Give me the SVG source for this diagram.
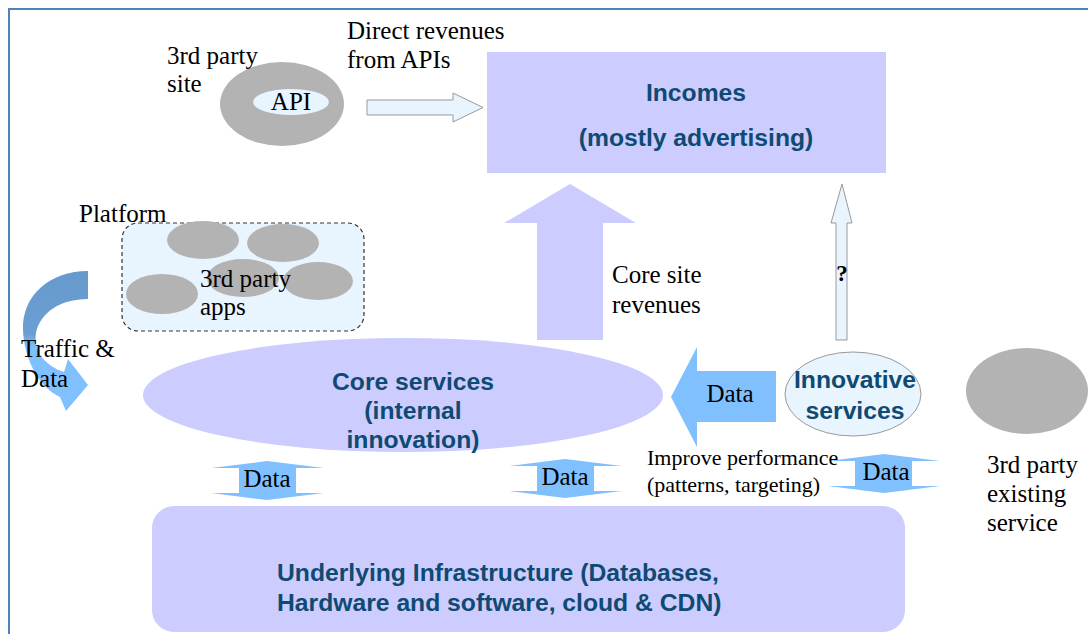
<svg xmlns="http://www.w3.org/2000/svg" width="1088" height="634" viewBox="0 0 1088 634">
<style>
.serif{font-family:'Liberation Serif','Times New Roman','DejaVu Serif',serif;font-size:25px;fill:#000}
.small{font-size:22px}
.q{font-size:23px;font-weight:bold}
.sans{font-family:'Liberation Sans',Arial,Helvetica,sans-serif;font-size:24.7px;font-weight:bold;fill:#0e4a72}
.lav{fill:#ccccff}
.grey{fill:#b3b3b3}
.pale{fill:#e8f4fe}
.blue{fill:#80c0ff}
.outl{fill:#e8f4fe;stroke:#9a9a9a;stroke-width:1}
</style>
<defs>
<linearGradient id="curveGrad" x1="0" y1="271" x2="0" y2="411" gradientUnits="userSpaceOnUse">
<stop offset="0" stop-color="#6699cc"/>
<stop offset="0.45" stop-color="#6b9fd3"/>
<stop offset="0.55" stop-color="#80c0ff"/>
<stop offset="1" stop-color="#80c0ff"/>
</linearGradient>
</defs>
<rect width="1088" height="634" fill="#fff"/>
<path d="M9 634 V9 H1088" fill="none" stroke="#4f81bd" stroke-width="2"/>

<g id="incomes">
<rect class="lav" x="487" y="52" width="399" height="121"/>
<text class="sans" x="696" y="101" text-anchor="middle">Incomes</text>
<text class="sans" x="696" y="146" text-anchor="middle">(mostly advertising)</text>
</g>

<g id="third-party-site">
<ellipse class="grey" cx="282" cy="104" rx="62" ry="42"/>
<ellipse class="pale" cx="291" cy="102" rx="38" ry="13"/>
<text class="serif" x="291" y="110" text-anchor="middle">API</text>
<text class="serif" x="167" y="64">3rd party</text>
<text class="serif" x="167" y="92">site</text>
</g>

<g id="platform">
<text class="serif" x="79" y="222">Platform</text>
<rect x="122" y="223" width="242" height="108" rx="16" fill="#e8f4fe" stroke="#333" stroke-width="1.2" stroke-dasharray="4,3"/>
<ellipse class="grey" cx="203" cy="240" rx="36" ry="19"/>
<ellipse class="grey" cx="283" cy="243" rx="36" ry="19"/>
<ellipse class="grey" cx="243" cy="278" rx="36" ry="19"/>
<ellipse class="grey" cx="318" cy="281" rx="35" ry="19"/>
<ellipse class="grey" cx="162" cy="294" rx="36" ry="20"/>
<text class="serif" x="200" y="287">3rd party</text>
<text class="serif" x="200" y="315">apps</text>
</g>

<g id="core-services">
<ellipse class="lav" cx="403" cy="395" rx="260" ry="57"/>
<text class="sans" x="413" y="390" text-anchor="middle">Core services</text>
<text class="sans" x="413" y="419" text-anchor="middle">(internal</text>
<text class="sans" x="413" y="448" text-anchor="middle">innovation)</text>
</g>

<g id="innovative-services">
<ellipse class="outl" cx="853" cy="394" rx="68" ry="42"/>
<text class="sans" x="855" y="388" text-anchor="middle">Innovative</text>
<text class="sans" x="855" y="419" text-anchor="middle">services</text>
</g>

<g id="third-party-existing">
<ellipse class="grey" cx="1027" cy="391" rx="61" ry="43"/>
<text class="serif" x="987" y="473">3rd party</text>
<text class="serif" x="987" y="502">existing</text>
<text class="serif" x="987" y="531">service</text>
</g>

<g id="infrastructure">
<rect class="lav" x="152" y="506" width="753" height="126" rx="22"/>
<text class="sans" x="277" y="581">Underlying Infrastructure (Databases,</text>
<text class="sans" x="277" y="611">Hardware and software, cloud &amp; CDN)</text>
</g>

<g id="connectors">
<path class="outl" d="M367 100 H453 V93 L483 107.5 L453 122 V115 H367 Z"/>
<text class="serif" x="347" y="39">Direct revenues</text>
<text class="serif" x="347" y="68">from APIs</text>

<path class="lav" d="M570 184 L636 223 H603 V340 H537 V223 H504 Z"/>
<text class="serif" x="612" y="283">Core site</text>
<text class="serif" x="612" y="313">revenues</text>

<path class="outl" d="M842 184 L852 223 H847 V340 H836 V223 H831 Z"/>
<text class="serif q" x="842" y="281" text-anchor="middle">?</text>

<path class="blue" d="M671 397 L697 347 V371 H776 V422 H697 V447 Z"/>
<text class="serif" x="730" y="402" text-anchor="middle">Data</text>

<path d="M88 271 C50 271 22 295 23 330 C24 360 40 388 60 397 L66 411 L88 385 L68 359 L64 372 C46 366 33 352 36 333 C40 313 60 299 88 299 Z" fill="url(#curveGrad)"/>
<text class="serif" x="21" y="357">Traffic &amp;</text>
<text class="serif" x="21" y="387">Data</text>

<path class="blue" d="M267 461 L324 468 H296 V493 H324 L267 500 L211 493 H239 V468 H211 Z"/>
<text class="serif" x="267" y="487" text-anchor="middle">Data</text>

<path class="blue" d="M565 459 L622 466 H594 V491 H622 L565 498 L509 491 H537 V466 H509 Z"/>
<text class="serif" x="565" y="485" text-anchor="middle">Data</text>

<path class="blue" d="M884 454 L940 461 H912 V486 H940 L884 493 L828 486 H855 V461 H828 Z"/>
<text class="serif" x="886" y="480" text-anchor="middle">Data</text>

<text class="serif small" x="647" y="465">Improve performance</text>
<text class="serif small" x="647" y="492">(patterns, targeting)</text>
</g>
</svg>
